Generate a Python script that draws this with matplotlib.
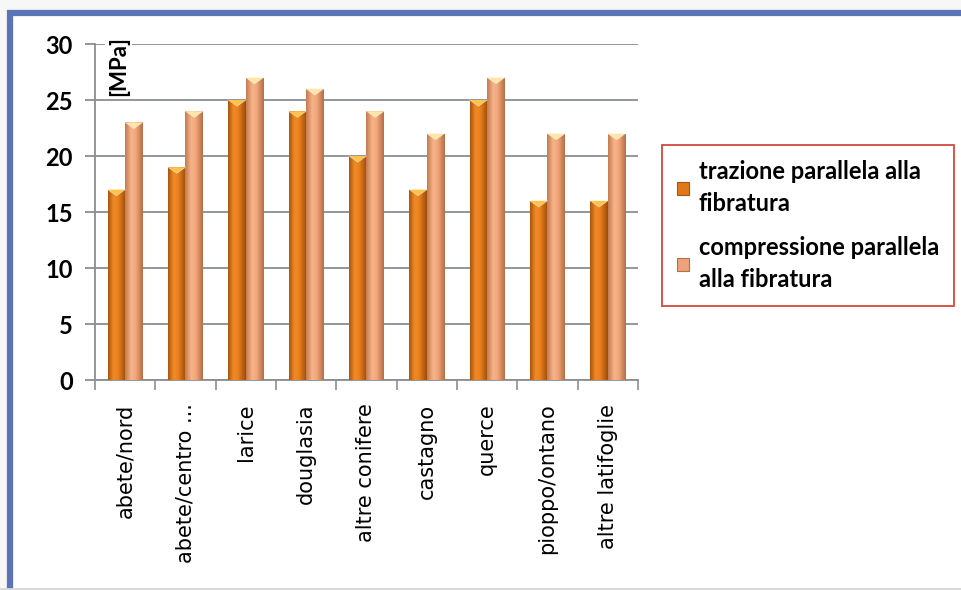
import numpy as np
import matplotlib.pyplot as plt
from matplotlib.colors import LinearSegmentedColormap
from matplotlib.patches import Rectangle
from matplotlib.lines import Line2D

specie = ['abete/nord', 'abete/centro ...', 'larice', 'douglasia', 'altre conifere',
          'castagno', 'querce', 'pioppo/ontano', 'altre latifoglie']
trazione = [17, 19, 25, 24, 20, 17, 25, 16, 16]
compressione = [23, 24, 27, 26, 24, 22, 27, 22, 22]
serie = ['trazione parallela alla\nfibratura', 'compressione parallela\nalla fibratura']
yticks = [0, 5, 10, 15, 20, 25, 30]

# sfumature dei cilindri: scuro ai bordi, chiaro al centro
cm_traz = LinearSegmentedColormap.from_list(
    'traz', [(0, '#a9540c'), (0.3, '#f08a26'), (0.55, '#ec8220'), (1, '#9c4c0a')])
cm_comp = LinearSegmentedColormap.from_list(
    'comp', [(0, '#c47a4e'), (0.35, '#f7b48a'), (0.6, '#f2a77a'), (1, '#b46e46')])
cap_traz = '#ffc24a'
cap_comp = '#ffe6a8'

W, H = 962, 590
fig = plt.figure(figsize=(W / 100, H / 100), dpi=100)
fig.patch.set_facecolor('white')

# cornice blu attorno al grafico
fig.patches.append(Rectangle((0, 0), 1, 1, transform=fig.transFigure,
                             facecolor='#f7f7f7', edgecolor='none', zorder=-3))
fig.patches.append(Rectangle((10 / W, -0.05), 1.1, 1.05 - 13 / H, transform=fig.transFigure,
                             facecolor='white', edgecolor='#5b74b8', linewidth=4.5, zorder=-2))
fig.add_artist(Line2D([0, 1], [1.5 / H, 1.5 / H], transform=fig.transFigure,
                      color='#d8d8d8', linewidth=2))

ax = fig.add_axes([95 / W, 1 - 380 / H, (638 - 95) / W, (380 - 44) / H])
x = np.arange(len(specie))
bw = 0.29

b1 = ax.bar(x - bw / 2, trazione, bw, color='#ec8220', zorder=2)
b2 = ax.bar(x + bw / 2, compressione, bw, color='#f2a77a', zorder=2)

grad = np.linspace(0, 1, 64).reshape(1, -1)
for bars, cmap, cap in ((b1, cm_traz, cap_traz), (b2, cm_comp, cap_comp)):
    for p in bars:
        x0, w, h = p.get_x(), p.get_width(), p.get_height()
        im = ax.imshow(grad, cmap=cmap, aspect='auto', extent=(x0, x0 + w, 0, h),
                       zorder=3, interpolation='bicubic')
        im.set_clip_path(p)
        ax.fill([x0, x0 + w, x0 + w / 2], [h, h, h - 0.55], color=cap, zorder=4, lw=0)
        ax.plot([x0, x0 + w / 2, x0 + w], [h, h - 0.55, h], color='#ffffff', alpha=0.5,
                lw=0.6, zorder=4)

ax.set_xlim(-0.5, len(specie) - 0.5)
ax.set_ylim(0, 30)
ax.set_yticks(yticks)
ax.set_yticklabels([str(v) for v in yticks], fontfamily='Lato', fontweight='bold', fontsize=17)
ax.yaxis.grid(True, color='#8a8f94', linewidth=1.3, zorder=0)
ax.set_axisbelow(True)

ax.set_xticks(x)
ax.set_xticklabels(specie, rotation=90, fontsize=15, fontfamily='DejaVu Sans')
ax.set_xticks(np.arange(-0.5, len(specie)), minor=True)
ax.tick_params(axis='x', which='major', length=0, pad=17)
ax.tick_params(axis='x', which='minor', length=7, color='#8a8f94', width=1.2)
ax.tick_params(axis='y', length=7, color='#8a8f94', width=1.3, pad=9)

for s in ('top', 'right'):
    ax.spines[s].set_visible(False)
for s in ('left', 'bottom'):
    ax.spines[s].set_color('#8a8f94')
    ax.spines[s].set_linewidth(1.3)

ax.text(0.043, 1.025, '[MPa]', transform=ax.transAxes, rotation=90, ha='center', va='top',
        fontfamily='Lato', fontweight='bold', fontsize=16, zorder=6,
        bbox=dict(facecolor='white', edgecolor='none', pad=2))

handles = [Rectangle((0, 0), 1, 1, facecolor='#e0781a', edgecolor='#a9540c', lw=0.8),
           Rectangle((0, 0), 1, 1, facecolor='#eda27a', edgecolor='#b46e46', lw=0.8)]
leg = fig.legend(handles, serie, loc='upper left', bbox_to_anchor=(662 / W, 1 - 145 / H),
                 frameon=True, fancybox=False, edgecolor='#d24a3c', framealpha=1,
                 prop={'family': 'Lato', 'weight': 'bold', 'size': 17},
                 handlelength=0.5, handleheight=0.5, handletextpad=0.4,
                 labelspacing=0.9, borderpad=0.65, borderaxespad=0)
leg.get_frame().set_linewidth(1.3)
for t in leg.get_texts():
    t.set_linespacing(1.45)

fig.savefig('out.png', dpi=100)
